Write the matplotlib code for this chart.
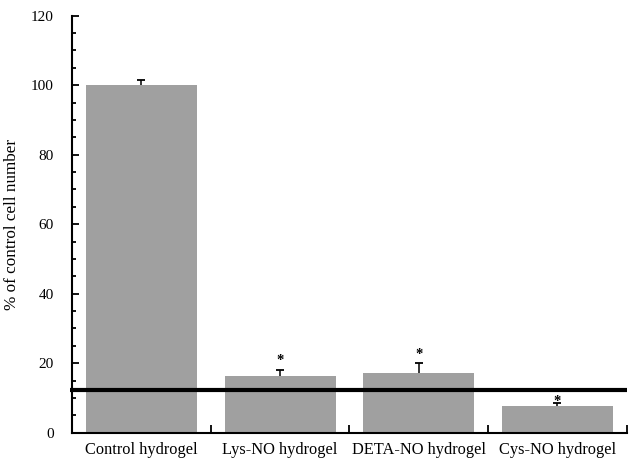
import numpy as np
import matplotlib.pyplot as plt
from matplotlib.ticker import MultipleLocator
from matplotlib.transforms import offset_copy

plt.rcParams['font.family'] = ['Liberation Serif', 'DejaVu Serif']

# data
groups = ['Control hydrogel', 'Lys-NO hydrogel', 'DETA-NO hydrogel', 'Cys-NO hydrogel']
values = [100.0, 16.2, 17.1, 7.8]
errors = [1.4, 1.9, 2.9, 0.8]
star_y = [None, 22.1, 23.8, 10.5]   # height of the "*" markers
threshold = 12.3

fig = plt.figure(figsize=(6.37, 4.62), dpi=100)
ax = fig.add_axes([0.113, 0.0634, 0.871, 0.9027])

x = np.arange(len(groups))
vals = np.array(values)
tops = vals + np.array(errors)
ax.bar(x, vals, width=0.8, color='#a0a0a0', edgecolor='none', zorder=2)

# upper-only error bars with a small cap
ax.vlines(x, vals, tops, color='black', lw=1.1, zorder=3)
ax.plot(x, tops, linestyle='none', marker='_', ms=6, mew=1.3, color='black', zorder=3)

# significance markers (asterisk glyph sits high in its box, shift it down a bit)
star_tr = offset_copy(ax.transData, fig=fig, x=0, y=-3.5, units='points')
for xi, sy in zip(x, star_y):
    if sy is not None:
        ax.text(xi, sy, '*', ha='center', va='center', fontsize=10.5,
                fontweight='bold', transform=star_tr, zorder=5)

# thick reference line
ax.plot([-0.515, 3.5], [threshold, threshold], color='black', lw=3,
        clip_on=False, zorder=4, solid_capstyle='butt')

ax.set_xlim(-0.5, 3.5)
ax.set_ylim(0, 120)

ax.yaxis.set_major_locator(MultipleLocator(20))
ax.yaxis.set_minor_locator(MultipleLocator(5))
ax.tick_params(axis='y', which='major', direction='in', length=5, width=1.3,
               labelsize=11, pad=13)
ax.tick_params(axis='y', which='minor', direction='in', length=3, width=1.3)

# x: tick marks at group boundaries, labels at group centres
ax.set_xticks([0.5, 1.5, 2.5, 3.5])
ax.set_xticklabels([])
ax.tick_params(axis='x', which='major', direction='in', length=6, width=1.3)
ax.set_xticks(x, minor=True)
ax.set_xticklabels(groups, minor=True)
ax.tick_params(axis='x', which='minor', length=0, labelsize=11.8, pad=7)

for side in ['top', 'right']:
    ax.spines[side].set_visible(False)
for side in ['left', 'bottom']:
    ax.spines[side].set_linewidth(1.5)

ax.set_ylabel('% of control cell number', fontsize=12.3, labelpad=8)

fig.savefig('out.png', dpi=100)
